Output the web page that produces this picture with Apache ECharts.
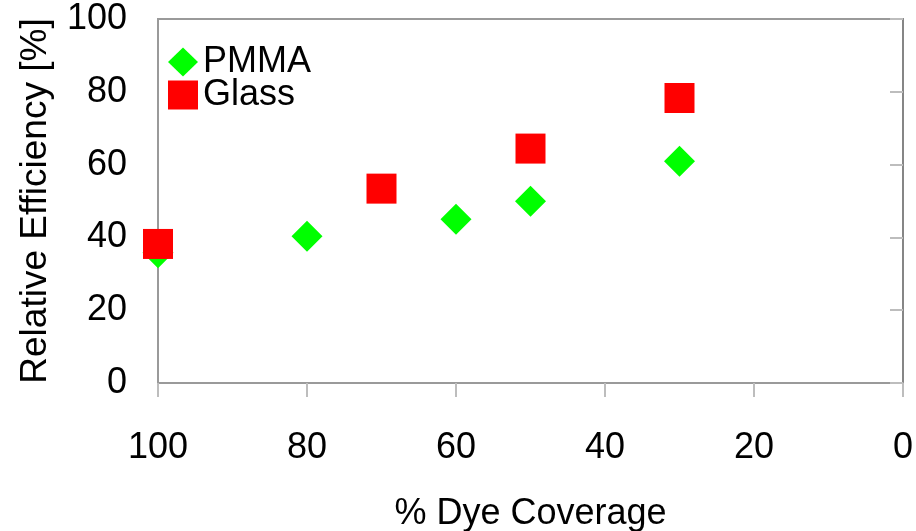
<!DOCTYPE html>
<html><head><meta charset="utf-8">
<script src="https://cdn.jsdelivr.net/npm/echarts@6/dist/echarts.min.js"></script>
<style>html,body{margin:0;padding:0;background:#fff}#c{width:916px;height:531px}</style>
</head><body><div id="c"></div>
<script>
const pmmaCoverage = [100, 80, 60, 50, 30];
const pmmaEfficiency = [35.8, 40.3, 45.0, 49.9, 60.9];
const glassCoverage = [100, 70, 50, 30];
const glassEfficiency = [38.2, 53.4, 64.4, 78.3];
const xTicks = [0, 20, 40, 60, 80, 100];
const yTicks = [0, 20, 40, 60, 80, 100];

const FONT = '"Liberation Sans Narrow", "Liberation Sans", sans-serif';
const FS = 36;
const chart = echarts.init(document.getElementById('c'), null, {renderer: 'canvas'});
chart.setOption({
  animation: false,
  backgroundColor: '#fff',
  grid: {left: 158, right: 13, top: 19, bottom: 148, outerBoundsMode: 'none', containLabel: false,
         show: true, borderColor: '#9a9a9a', borderWidth: 2, backgroundColor: 'transparent'},
  legend: {
    orient: 'vertical', left: 163, top: 39, itemGap: -3, itemWidth: 30, itemHeight: 29,
    textStyle: {fontFamily: FONT, fontSize: FS, color: '#000', lineHeight: 30},
    data: [{name: 'PMMA', icon: 'diamond'}, {name: 'Glass', icon: 'rect'}]
  },
  xAxis: {
    type: 'value', inverse: true, min: xTicks[0], max: xTicks[xTicks.length-1], interval: 20,
    name: '% Dye Coverage', nameLocation: 'middle', nameGap: 113,
    nameTextStyle: {fontFamily: FONT, fontSize: FS, color: '#000'},
    axisLine: {show: true, onZero: false, lineStyle: {color: '#9a9a9a', width: 2}},
    axisTick: {show: true, length: 14, lineStyle: {color: '#bdbdbd', width: 2}},
    axisLabel: {fontFamily: FONT, fontSize: FS, color: '#000', margin: 47},
    splitLine: {show: false}
  },
  yAxis: {
    type: 'value', min: yTicks[0], max: yTicks[yTicks.length-1], interval: 20,
    name: 'Relative Efficiency [%]', nameLocation: 'middle', nameGap: 104,
    nameTextStyle: {fontFamily: FONT, fontSize: 37, color: '#000'},
    axisLine: {show: true, lineStyle: {color: '#868686', width: 2}},
    axisTick: {show: true, length: 13, lineStyle: {color: '#bdbdbd', width: 2}},
    axisLabel: {fontFamily: FONT, fontSize: FS, color: '#000', margin: 31},
    splitLine: {show: false}
  },
  series: [
    {name: 'PMMA', type: 'scatter', symbol: 'diamond', symbolSize: 31,
     itemStyle: {color: '#00ff00', opacity: 1},
     data: pmmaCoverage.map((x, i) => [x, pmmaEfficiency[i]]), z: 2},
    {name: 'Glass', type: 'scatter', symbol: 'rect', symbolSize: 30,
     itemStyle: {color: '#ff0000', opacity: 1},
     data: glassCoverage.map((x, i) => [x, glassEfficiency[i]]), z: 3}
  ]
});
</script></body></html>
